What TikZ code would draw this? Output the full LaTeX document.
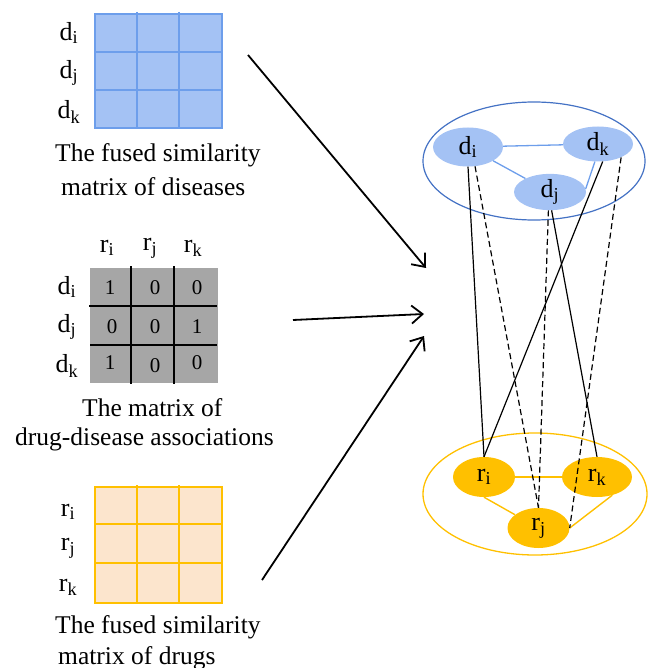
\documentclass[tikz,border=0pt]{standalone}
\usepackage{fontspec}
\setmainfont{Liberation Serif}
\usetikzlibrary{arrows.meta,shapes.geometric}
\definecolor{bfill}{RGB}{164,194,244}
\definecolor{bline}{RGB}{109,158,235}
\definecolor{bout}{RGB}{68,114,196}
\definecolor{ofill}{RGB}{252,229,205}
\definecolor{oline}{RGB}{255,192,0}
\definecolor{gfill}{RGB}{166,166,166}
\newcommand\lb[2]{#1\textsubscript{#2}}
\begin{document}
\begin{tikzpicture}[x=1pt,y=-1pt,
  lab/.style={font=\fontsize{26}{30}\selectfont, inner sep=0pt},
  captext/.style={font=\fontsize{25.5}{30}\selectfont, inner sep=0pt, anchor=west},
  num/.style={font=\fontsize{21}{24}\selectfont, inner sep=0pt},
  dnode/.style={ellipse, fill=bfill, inner sep=0pt, font=\fontsize{26}{30}\selectfont},
  rnode/.style={ellipse, fill=oline, inner sep=0pt, font=\fontsize{26}{30}\selectfont},
  bigarrow/.style={line width=1.8pt, -{Straight Barb[length=11pt,width=18pt,line width=1.8pt]}},
  dedge/.style={bline, line width=1.3pt},
  redge/.style={oline, line width=1.4pt},
  solidlink/.style={black, line width=1.2pt},
  dashlink/.style={black, line width=1.2pt, dash pattern=on 6pt off 3.5pt}]
\useasboundingbox (0,0) rectangle (648,668);

% ---------- top matrix (diseases) ----------
\draw[bline, fill=bfill, line width=1.3pt] (95,14) rectangle (222,128);
\draw[bline, line width=1.3pt] (137,12) -- (137,128) (179,12) -- (179,128)
  (95,52) -- (222,52) (95,90) -- (222,90);
\node[lab] (tdi) at (69,33) {\lb{d}{i}};
\node[lab] (tdj) at (69,73) {\lb{d}{j}};
\node[lab] (tdk) at (69,112) {\lb{d}{k}};
\node[captext] (tc1) at (55,155) {The fused similarity};
\node[captext] (tc2) at (61,187) {matrix of diseases};

% ---------- middle matrix (associations) ----------
\fill[gfill] (90,268) rectangle (218,383);
\draw[black, line width=1.2pt] (131,266) -- (131,384) (174,266) -- (174,384)
  (89,306) -- (217,306) (90,345) -- (217,345);
\node[lab] (mri) at (107,248) {\lb{r}{i}};
\node[lab] (mrj) at (150,248) {\lb{r}{j}};
\node[lab] (mrk) at (193,248) {\lb{r}{k}};
\node[lab] (mdi) at (67,287) {\lb{d}{i}};
\node[lab] (mdj) at (67,327) {\lb{d}{j}};
\node[lab] (mdk) at (67,366) {\lb{d}{k}};
\node[num] (v11) at (110,288) {1};
\node[num] (v12) at (155,288) {0};
\node[num] (v13) at (197,288) {0};
\node[num] (v21) at (112,327) {0};
\node[num] (v22) at (155,327) {0};
\node[num] (v23) at (197,327) {1};
\node[num] (v31) at (110,363) {1};
\node[num] (v32) at (155,366) {0};
\node[num] (v33) at (197,363) {0};
\node[captext] (mc1) at (82,408) {The matrix of};
\node[captext] (mc2) at (15,439) {drug-disease associations};

% ---------- bottom matrix (drugs) ----------
\draw[oline, fill=ofill, line width=1.3pt] (95,487) rectangle (222,603);
\draw[oline, line width=1.3pt] (137,485) -- (137,603) (179,485) -- (179,603)
  (95,524) -- (222,524) (95,563) -- (222,563);
\node[lab] (bri) at (68,512) {\lb{r}{i}};
\node[lab] (brj) at (68,548) {\lb{r}{j}};
\node[lab] (brk) at (68,587) {\lb{r}{k}};
\node[captext] (bc1) at (55,627) {The fused similarity};
\node[captext] (bc2) at (58,658) {matrix of drugs};

% ---------- arrows ----------
\coordinate (a1s) at (248,55);  \coordinate (a1e) at (426,268);
\coordinate (a2s) at (293,320); \coordinate (a2e) at (424,314);
\coordinate (a3s) at (262,580); \coordinate (a3e) at (424,336);
\draw[bigarrow] (a1s) -- (a1e);
\draw[bigarrow] (a2s) -- (a2e);
\draw[bigarrow] (a3s) -- (a3e);

% ---------- network ----------
\draw[bout, line width=1.2pt] (534,161) ellipse [x radius=111, y radius=59];
\draw[oline, line width=1.3pt] (535,494) ellipse [x radius=112, y radius=61];

\node[dnode, minimum width=70pt, minimum height=39pt] (di) at (468,147) {\lb{d}{i}};
\node[dnode, minimum width=70pt, minimum height=35pt] (dk) at (598,144) {\lb{d}{k}};
\node[dnode, minimum width=72pt, minimum height=36pt] (dj) at (550,192) {\lb{d}{j}};

\node[rnode, minimum width=62pt, minimum height=40pt] (ri) at (484,477) {\lb{r}{i}};
\node[rnode, minimum width=70pt, minimum height=40pt] (rk) at (597,477) {\lb{r}{k}};
\node[rnode, minimum width=62pt, minimum height=40pt] (rj) at (538.5,528) {\lb{r}{j}};

\draw[dedge] (di) -- (dk);
\draw[dedge] (di) -- (dj);
\draw[dedge] (dj.5) -- (dk.-100);

\draw[redge] (ri) -- (rk);
\draw[redge] (ri.south) -- (rj);
\draw[redge] (rj.east) -- (rk.-50);

\draw[solidlink] (di.south) -- (ri.north);
\draw[dashlink] (di.-70) -- (rj.north);
\draw[solidlink] (dk.-75) -- (ri.north);
\draw[dashlink] (dk.-30) -- (rj.east);
\draw[solidlink] (dj.-85) -- (rk.north);
\draw[dashlink] (dj.-95) -- (rj.north);
\end{tikzpicture}
\end{document}
